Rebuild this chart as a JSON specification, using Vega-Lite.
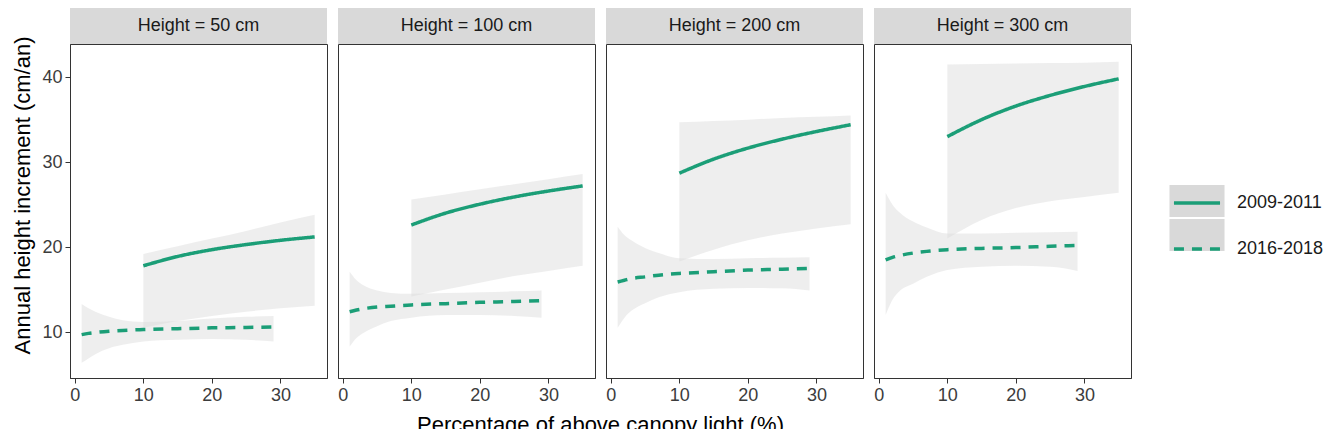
{
  "$schema": "https://vega.github.io/schema/vega-lite/v6.json",
  "padding": {"left": 10, "top": 8, "right": 0, "bottom": 0},
  "background": "white",
  "config": {
    "font": "Liberation Sans",
    "view": {"stroke": "#333333", "strokeWidth": 1},
    "axis": {"grid": false, "labelFontSize": 18, "labelColor": "#3c3c3c", "titleFontSize": 22, "titleFontWeight": "normal", "titleColor": "#000000", "domainColor": "#333333", "tickColor": "#333333", "tickSize": 5, "labelPadding": 3}
  },
  "datasets": {
    "strips": [
      {"h": 50, "label": "Height = 50 cm"},
      {"h": 100, "label": "Height = 100 cm"},
      {"h": 200, "label": "Height = 200 cm"},
      {"h": 300, "label": "Height = 300 cm"}
    ],
    "curves": [
      {"h": 50, "period": "2009-2011", "x": 10, "y": 17.8, "lo": 10.5, "hi": 19.2},
      {"h": 50, "period": "2009-2011", "x": 15, "y": 18.9, "lo": 11.3, "hi": 20.1},
      {"h": 50, "period": "2009-2011", "x": 20, "y": 19.7, "lo": 11.9, "hi": 21.0},
      {"h": 50, "period": "2009-2011", "x": 25, "y": 20.3, "lo": 12.4, "hi": 21.9},
      {"h": 50, "period": "2009-2011", "x": 30, "y": 20.8, "lo": 12.8, "hi": 22.9},
      {"h": 50, "period": "2009-2011", "x": 35, "y": 21.2, "lo": 13.1, "hi": 23.8},
      {"h": 50, "period": "2016-2018", "x": 1, "y": 9.7, "lo": 6.4, "hi": 13.3},
      {"h": 50, "period": "2016-2018", "x": 2, "y": 9.85, "lo": 6.9, "hi": 12.8},
      {"h": 50, "period": "2016-2018", "x": 3, "y": 9.95, "lo": 7.4, "hi": 12.4},
      {"h": 50, "period": "2016-2018", "x": 5, "y": 10.1, "lo": 8.1, "hi": 11.8},
      {"h": 50, "period": "2016-2018", "x": 7, "y": 10.2, "lo": 8.5, "hi": 11.4},
      {"h": 50, "period": "2016-2018", "x": 10, "y": 10.3, "lo": 8.9, "hi": 11.2},
      {"h": 50, "period": "2016-2018", "x": 15, "y": 10.4, "lo": 9.1, "hi": 11.3},
      {"h": 50, "period": "2016-2018", "x": 20, "y": 10.5, "lo": 9.2, "hi": 11.6},
      {"h": 50, "period": "2016-2018", "x": 25, "y": 10.55, "lo": 9.1, "hi": 11.8},
      {"h": 50, "period": "2016-2018", "x": 29, "y": 10.6, "lo": 8.9, "hi": 11.9},
      {"h": 100, "period": "2009-2011", "x": 10, "y": 22.6, "lo": 14.2, "hi": 25.6},
      {"h": 100, "period": "2009-2011", "x": 15, "y": 24.0, "lo": 15.0, "hi": 26.2},
      {"h": 100, "period": "2009-2011", "x": 20, "y": 25.05, "lo": 15.8, "hi": 26.8},
      {"h": 100, "period": "2009-2011", "x": 25, "y": 25.9, "lo": 16.6, "hi": 27.4},
      {"h": 100, "period": "2009-2011", "x": 30, "y": 26.6, "lo": 17.2, "hi": 28.0},
      {"h": 100, "period": "2009-2011", "x": 35, "y": 27.2, "lo": 17.8, "hi": 28.6},
      {"h": 100, "period": "2016-2018", "x": 1, "y": 12.4, "lo": 8.3, "hi": 17.1},
      {"h": 100, "period": "2016-2018", "x": 2, "y": 12.6, "lo": 9.3, "hi": 16.1},
      {"h": 100, "period": "2016-2018", "x": 3, "y": 12.75, "lo": 9.9, "hi": 15.5},
      {"h": 100, "period": "2016-2018", "x": 5, "y": 12.95, "lo": 10.7, "hi": 14.9},
      {"h": 100, "period": "2016-2018", "x": 7, "y": 13.05, "lo": 11.3, "hi": 14.6},
      {"h": 100, "period": "2016-2018", "x": 10, "y": 13.2, "lo": 11.7, "hi": 14.5},
      {"h": 100, "period": "2016-2018", "x": 15, "y": 13.35, "lo": 12.0, "hi": 14.6},
      {"h": 100, "period": "2016-2018", "x": 20, "y": 13.5, "lo": 12.0, "hi": 14.7},
      {"h": 100, "period": "2016-2018", "x": 25, "y": 13.6, "lo": 11.9, "hi": 14.8},
      {"h": 100, "period": "2016-2018", "x": 29, "y": 13.7, "lo": 11.7, "hi": 14.9},
      {"h": 200, "period": "2009-2011", "x": 10, "y": 28.7, "lo": 18.3, "hi": 34.7},
      {"h": 200, "period": "2009-2011", "x": 15, "y": 30.35, "lo": 19.7, "hi": 34.85},
      {"h": 200, "period": "2009-2011", "x": 20, "y": 31.65, "lo": 20.8, "hi": 35.0},
      {"h": 200, "period": "2009-2011", "x": 25, "y": 32.7, "lo": 21.6, "hi": 35.2},
      {"h": 200, "period": "2009-2011", "x": 30, "y": 33.6, "lo": 22.2, "hi": 35.35},
      {"h": 200, "period": "2009-2011", "x": 35, "y": 34.4, "lo": 22.7, "hi": 35.5},
      {"h": 200, "period": "2016-2018", "x": 1, "y": 15.9, "lo": 10.5, "hi": 22.4},
      {"h": 200, "period": "2016-2018", "x": 2, "y": 16.1, "lo": 11.7, "hi": 21.4},
      {"h": 200, "period": "2016-2018", "x": 3, "y": 16.3, "lo": 12.5, "hi": 20.8},
      {"h": 200, "period": "2016-2018", "x": 5, "y": 16.5, "lo": 13.4, "hi": 19.9},
      {"h": 200, "period": "2016-2018", "x": 7, "y": 16.7, "lo": 14.1, "hi": 19.3},
      {"h": 200, "period": "2016-2018", "x": 10, "y": 16.9, "lo": 14.7, "hi": 18.7},
      {"h": 200, "period": "2016-2018", "x": 15, "y": 17.1, "lo": 15.1, "hi": 18.6},
      {"h": 200, "period": "2016-2018", "x": 20, "y": 17.3, "lo": 15.2, "hi": 18.7},
      {"h": 200, "period": "2016-2018", "x": 25, "y": 17.4, "lo": 15.15, "hi": 18.75},
      {"h": 200, "period": "2016-2018", "x": 29, "y": 17.5, "lo": 14.9, "hi": 18.8},
      {"h": 300, "period": "2009-2011", "x": 10, "y": 33.0, "lo": 21.0, "hi": 41.5},
      {"h": 300, "period": "2009-2011", "x": 15, "y": 35.0, "lo": 23.2, "hi": 41.55},
      {"h": 300, "period": "2009-2011", "x": 20, "y": 36.6, "lo": 24.6, "hi": 41.6},
      {"h": 300, "period": "2009-2011", "x": 25, "y": 37.85, "lo": 25.4, "hi": 41.65},
      {"h": 300, "period": "2009-2011", "x": 30, "y": 38.9, "lo": 25.9, "hi": 41.7},
      {"h": 300, "period": "2009-2011", "x": 35, "y": 39.8, "lo": 26.4, "hi": 41.8},
      {"h": 300, "period": "2016-2018", "x": 1, "y": 18.5, "lo": 12.0, "hi": 26.4},
      {"h": 300, "period": "2016-2018", "x": 2, "y": 18.8, "lo": 13.8, "hi": 25.0},
      {"h": 300, "period": "2016-2018", "x": 3, "y": 19.0, "lo": 14.8, "hi": 24.1},
      {"h": 300, "period": "2016-2018", "x": 5, "y": 19.3, "lo": 15.7, "hi": 23.0},
      {"h": 300, "period": "2016-2018", "x": 7, "y": 19.5, "lo": 16.5, "hi": 22.3},
      {"h": 300, "period": "2016-2018", "x": 10, "y": 19.7, "lo": 17.3, "hi": 21.6},
      {"h": 300, "period": "2016-2018", "x": 15, "y": 19.85, "lo": 17.7, "hi": 21.6},
      {"h": 300, "period": "2016-2018", "x": 20, "y": 19.95, "lo": 17.8, "hi": 21.7},
      {"h": 300, "period": "2016-2018", "x": 25, "y": 20.1, "lo": 17.7, "hi": 21.75},
      {"h": 300, "period": "2016-2018", "x": 29, "y": 20.2, "lo": 17.2, "hi": 21.8}
    ]
  },
  "columns": 4,
  "spacing": {"row": 0, "column": 11},
  "bounds": "flush",
  "resolve": {"scale": {"fill": "shared", "strokeDash": "shared"}, "legend": {"fill": "shared", "strokeDash": "shared"}},
  "concat": [
    {"width": 257, "height": 36, "view": {"fill": "#d9d9d9", "stroke": null}, "data": {"name": "strips"}, "transform": [{"filter": "datum.h == 50"}], "mark": {"type": "text", "fontSize": 18, "color": "#1a1a1a"}, "encoding": {"text": {"field": "label"}}},
    {"width": 257, "height": 36, "view": {"fill": "#d9d9d9", "stroke": null}, "data": {"name": "strips"}, "transform": [{"filter": "datum.h == 100"}], "mark": {"type": "text", "fontSize": 18, "color": "#1a1a1a"}, "encoding": {"text": {"field": "label"}}},
    {"width": 257, "height": 36, "view": {"fill": "#d9d9d9", "stroke": null}, "data": {"name": "strips"}, "transform": [{"filter": "datum.h == 200"}], "mark": {"type": "text", "fontSize": 18, "color": "#1a1a1a"}, "encoding": {"text": {"field": "label"}}},
    {"width": 257, "height": 36, "view": {"fill": "#d9d9d9", "stroke": null}, "data": {"name": "strips"}, "transform": [{"filter": "datum.h == 300"}], "mark": {"type": "text", "fontSize": 18, "color": "#1a1a1a"}, "encoding": {"text": {"field": "label"}}},
    {
      "width": 257, "height": 334,
      "data": {"name": "curves"},
      "transform": [{"filter": "datum.h == 50"}],
      "encoding": {
        "x": {"field": "x", "type": "quantitative", "scale": {"domain": [-0.7, 36.8], "nice": false, "zero": false}, "axis": {"values": [0, 10, 20, 30], "title": null}}
      },
      "layer": [
        {"mark": {"type": "area", "interpolate": "monotone", "fillOpacity": 0.45},
         "encoding": {
           "y": {"field": "lo", "type": "quantitative", "scale": {"domain": [4.6, 43.9], "nice": false, "zero": false}, "axis": {"values": [10, 20, 30, 40], "title": "Annual height increment (cm/an)", "titleX": -41, "titleY": 151, "titleBaseline": "alphabetic", "titleAlign": "center"}},
           "y2": {"field": "hi"},
           "fill": {"field": "period", "type": "nominal", "scale": {"domain": ["2009-2011", "2016-2018"], "range": ["#d9d9d9", "#d9d9d9"]}, "legend": {"orient": "none", "legendX": 1111, "legendY": 177, "title": null, "symbolType": "M-1.72,-1L1.72,-1L1.72,1L-1.72,1Z", "symbolSize": 1024, "symbolStrokeWidth": 0, "labelExpr": "''", "labelFontSize": 18, "rowPadding": 2, "padding": 0, "encode": {"symbols": {"update": {"fill": {"value": "#ebebeb"}, "fillOpacity": {"value": 1}, "opacity": {"value": 1}, "stroke": {"value": "transparent"}}}}}}
         }},
        {"mark": {"type": "line", "interpolate": "monotone", "color": "#1b9e77", "strokeWidth": 3.5},
         "encoding": {
           "y": {"field": "y", "type": "quantitative"},
           "strokeDash": {"field": "period", "type": "nominal", "scale": {"range": [[1, 0], [10, 8]]}, "legend": {"orient": "none", "legendX": 1109, "legendY": 177, "title": null, "symbolType": "M-1.44,0L1.44,0M0,-0.89M0,0.89", "symbolSize": 1024, "symbolStrokeWidth": 3.5, "symbolStrokeColor": "#1b9e77", "labelFontSize": 18, "labelColor": "#1a1a1a", "labelOffset": 22, "rowPadding": 2, "padding": 0}}
         }}
      ]
    },
    {
      "width": 257, "height": 334,
      "data": {"name": "curves"},
      "transform": [{"filter": "datum.h == 100"}],
      "encoding": {
        "x": {"field": "x", "type": "quantitative", "scale": {"domain": [-0.7, 36.8], "nice": false, "zero": false}, "axis": {"values": [0, 10, 20, 30], "title": "Percentage of above canopy light (%)", "titleX": 262, "titleY": 53, "titleBaseline": "alphabetic", "titleAlign": "center"}}
      },
      "layer": [
        {"mark": {"type": "area", "interpolate": "monotone", "fillOpacity": 0.45},
         "encoding": {
           "y": {"field": "lo", "type": "quantitative", "scale": {"domain": [4.6, 43.9], "nice": false, "zero": false}, "axis": null},
           "y2": {"field": "hi"},
           "fill": {"field": "period", "type": "nominal", "scale": {"domain": ["2009-2011", "2016-2018"], "range": ["#d9d9d9", "#d9d9d9"]}}
         }},
        {"mark": {"type": "line", "interpolate": "monotone", "color": "#1b9e77", "strokeWidth": 3.5},
         "encoding": {
           "y": {"field": "y", "type": "quantitative"},
           "strokeDash": {"field": "period", "type": "nominal", "scale": {"range": [[1, 0], [10, 8]]}}
         }}
      ]
    },
    {
      "width": 257, "height": 334,
      "data": {"name": "curves"},
      "transform": [{"filter": "datum.h == 200"}],
      "encoding": {
        "x": {"field": "x", "type": "quantitative", "scale": {"domain": [-0.7, 36.8], "nice": false, "zero": false}, "axis": {"values": [0, 10, 20, 30], "title": null}}
      },
      "layer": [
        {"mark": {"type": "area", "interpolate": "monotone", "fillOpacity": 0.45},
         "encoding": {
           "y": {"field": "lo", "type": "quantitative", "scale": {"domain": [4.6, 43.9], "nice": false, "zero": false}, "axis": null},
           "y2": {"field": "hi"},
           "fill": {"field": "period", "type": "nominal", "scale": {"domain": ["2009-2011", "2016-2018"], "range": ["#d9d9d9", "#d9d9d9"]}}
         }},
        {"mark": {"type": "line", "interpolate": "monotone", "color": "#1b9e77", "strokeWidth": 3.5},
         "encoding": {
           "y": {"field": "y", "type": "quantitative"},
           "strokeDash": {"field": "period", "type": "nominal", "scale": {"range": [[1, 0], [10, 8]]}}
         }}
      ]
    },
    {
      "width": 257, "height": 334,
      "data": {"name": "curves"},
      "transform": [{"filter": "datum.h == 300"}],
      "encoding": {
        "x": {"field": "x", "type": "quantitative", "scale": {"domain": [-0.7, 36.8], "nice": false, "zero": false}, "axis": {"values": [0, 10, 20, 30], "title": null}}
      },
      "layer": [
        {"mark": {"type": "area", "interpolate": "monotone", "fillOpacity": 0.45},
         "encoding": {
           "y": {"field": "lo", "type": "quantitative", "scale": {"domain": [4.6, 43.9], "nice": false, "zero": false}, "axis": null},
           "y2": {"field": "hi"},
           "fill": {"field": "period", "type": "nominal", "scale": {"domain": ["2009-2011", "2016-2018"], "range": ["#d9d9d9", "#d9d9d9"]}}
         }},
        {"mark": {"type": "line", "interpolate": "monotone", "color": "#1b9e77", "strokeWidth": 3.5},
         "encoding": {
           "y": {"field": "y", "type": "quantitative"},
           "strokeDash": {"field": "period", "type": "nominal", "scale": {"range": [[1, 0], [10, 8]]}}
         }}
      ]
    }
  ]
}
